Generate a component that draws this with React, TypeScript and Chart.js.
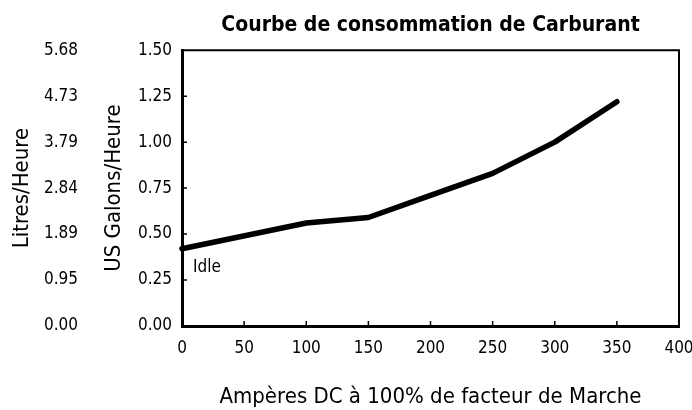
import React, { useEffect, useRef } from "react";
import { Chart, registerables } from "chart.js";

Chart.register(...registerables);

const chartTitle = "Courbe de consommation de Carburant";
const xTitle = "Ampères DC à 100% de facteur de Marche";
const gallonTitle = "US Galons/Heure";
const litreTitle = "Litres/Heure";
const idleLabel = "Idle";

const amperes = [0, 100, 150, 200, 250, 300, 350];
const gallonsPerHour = [0.42, 0.56, 0.59, 0.71, 0.83, 1.0, 1.22];
const litreTickLabels = ["0.00", "0.95", "1.89", "2.84", "3.79", "4.73", "5.68"];

const FONT = "'DejaVu Sans Condensed', 'Liberation Sans Narrow', sans-serif";

const framePlugin = {
  id: "frame",
  afterDatasetsDraw(chart: any) {
    const { ctx, chartArea, scales } = chart;
    const { left, right, top, bottom } = chartArea;
    ctx.save();
    ctx.strokeStyle = "#000";
    ctx.lineWidth = 2;
    ctx.beginPath();
    ctx.moveTo(left, top);
    ctx.lineTo(right, top);
    ctx.lineTo(right, bottom);
    ctx.stroke();
    ctx.lineWidth = 1.5;
    ctx.beginPath();
    scales.x.ticks.forEach((t: any, i: number) => {
      const px = scales.x.getPixelForTick(i);
      if (px <= left + 2 || px >= right - 2) return;
      ctx.moveTo(px, bottom);
      ctx.lineTo(px, bottom - 5);
    });
    scales.y.ticks.forEach((t: any, i: number) => {
      const py = scales.y.getPixelForTick(i);
      if (py <= top + 2 || py >= bottom - 2) return;
      ctx.moveTo(left, py);
      ctx.lineTo(left + 5, py);
    });
    ctx.stroke();
    const ix = scales.x.getPixelForValue(amperes[0]);
    const iy = scales.y.getPixelForValue(gallonsPerHour[0]);
    ctx.fillStyle = "#000";
    ctx.font = `17px ${FONT}`;
    ctx.textBaseline = "alphabetic";
    ctx.textAlign = "left";
    ctx.fillText(idleLabel, ix + 11, iy + 23);
    ctx.restore();
  },
};

export default function App() {
  const ref = useRef<HTMLCanvasElement | null>(null);
  useEffect(() => {
    if (!ref.current) return;
    const chart = new Chart(ref.current, {
      type: "line",
      data: {
        datasets: [
          {
            data: amperes.map((a, i) => ({ x: a, y: gallonsPerHour[i] })),
            borderColor: "#000",
            borderWidth: 5.5,
            borderCapStyle: "round",
            borderJoinStyle: "round",
            pointRadius: 0,
            tension: 0,
            fill: false,
            yAxisID: "y",
            clip: false as any,
          },
        ],
      },
      options: {
        animation: false,
        responsive: false,
        maintainAspectRatio: false,
        layout: { padding: { left: 0, right: 13, top: 0, bottom: 0 } },
        plugins: {
          legend: { display: false },
          tooltip: { enabled: false },
          title: {
            display: true,
            text: chartTitle,
            fullSize: false,
            color: "#000",
            font: { family: FONT, size: 21, weight: "bold" },
            padding: { top: 13, bottom: 12 },
          },
        },
        scales: {
          x: {
            type: "linear",
            min: 0,
            max: 400,
            ticks: {
              stepSize: 50,
              color: "#000",
              padding: 12,
              font: { family: FONT, size: 17 },
              maxRotation: 0,
            },
            grid: { display: true, drawOnChartArea: false, drawTicks: false },
            border: { display: true, color: "#000", width: 3 },
            title: {
              display: true,
              text: xTitle,
              color: "#000",
              font: { family: FONT, size: 22 },
              padding: { top: 4, bottom: 0 },
            },
            afterFit: (s: any) => {
              s.height = 84;
              s.paddingRight = 0;
              s.paddingLeft = 0;
            },
          },
          y2: {
            type: "linear",
            position: "left",
            weight: 1,
            min: 0,
            max: 1.5,
            ticks: {
              stepSize: 0.25,
              color: "#000",
              padding: 12,
              font: { family: FONT, size: 17 },
              callback: (_v: any, i: number) => litreTickLabels[i],
            },
            grid: { display: false, drawTicks: false },
            border: { display: false },
            title: {
              display: true,
              text: litreTitle,
              color: "#000",
              font: { family: FONT, size: 22 },
              padding: { top: 9, bottom: 0 },
            },
            afterFit: (s: any) => {
              s.width = 90;
            },
          },
          y: {
            type: "linear",
            position: "left",
            weight: 0,
            min: 0,
            max: 1.5,
            ticks: {
              stepSize: 0.25,
              color: "#000",
              padding: 10,
              font: { family: FONT, size: 17 },
              callback: (v: any) => Number(v).toFixed(2),
            },
            grid: { display: true, drawOnChartArea: false, drawTicks: false },
            border: { display: true, color: "#000", width: 3 },
            title: {
              display: true,
              text: gallonTitle,
              color: "#000",
              font: { family: FONT, size: 22 },
              padding: { top: 11, bottom: 0 },
            },
            afterFit: (s: any) => {
              s.width = 92;
            },
          },
        },
      } as any,
      plugins: [framePlugin],
    });
    return () => chart.destroy();
  }, []);
  return (
    <div style={{ position: "fixed", left: 0, top: 0, width: 692, height: 410, background: "#fff" }}>
      <canvas ref={ref} width={692} height={410} style={{ display: "block", width: 692, height: 410 }} />
    </div>
  );
}
